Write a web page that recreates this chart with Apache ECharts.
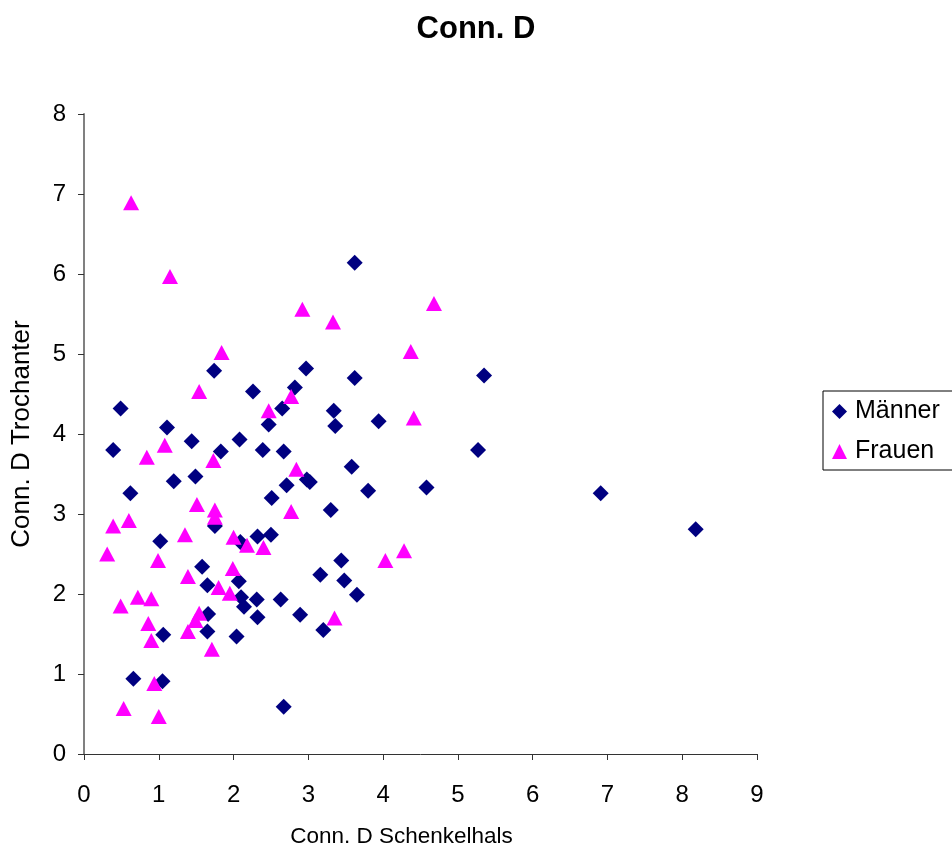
<!DOCTYPE html>
<html>
<head>
<meta charset="utf-8">
<script src="https://cdn.jsdelivr.net/npm/echarts@6/dist/echarts.min.js"></script>
<style>
  html, body { margin: 0; padding: 0; background: #fff; }
  #chart { width: 952px; height: 853px; }
</style>
</head>
<body>
<div id="chart"></div>
<script>
// Männer: [Schenkelhals, Trochanter]
var maenner = [
  [0.39, 3.80], [0.49, 4.32], [0.62, 3.26], [0.66, 0.94], [1.02, 2.66],
  [1.06, 1.49], [1.05, 0.91], [1.11, 4.08], [1.20, 3.41], [1.44, 3.91],
  [1.49, 3.47], [1.58, 2.34], [1.65, 2.11], [1.66, 1.75], [1.65, 1.53],
  [1.74, 4.79], [1.75, 2.85], [1.83, 3.78], [2.04, 1.47], [2.08, 3.93],
  [2.07, 2.16], [2.09, 2.65], [2.10, 1.96], [2.14, 1.84], [2.26, 4.53],
  [2.31, 1.93], [2.32, 1.71], [2.32, 2.72], [2.39, 3.80], [2.47, 4.12],
  [2.50, 2.74], [2.51, 3.20], [2.65, 4.32], [2.67, 3.78], [2.63, 1.93],
  [2.67, 0.59], [2.71, 3.36], [2.82, 4.58], [2.89, 1.74], [2.97, 4.82],
  [2.98, 3.43], [3.02, 3.40], [3.16, 2.24], [3.20, 1.55], [3.30, 3.05],
  [3.34, 4.29], [3.36, 4.10], [3.44, 2.42], [3.48, 2.17], [3.58, 3.59],
  [3.62, 6.14], [3.62, 4.70], [3.65, 1.99], [3.80, 3.29], [3.94, 4.16],
  [4.58, 3.33], [5.27, 3.80], [5.35, 4.73], [6.91, 3.26], [8.18, 2.81]
];

// Frauen
var frauen = [
  [0.63, 6.89], [1.15, 5.97], [2.92, 5.56], [3.33, 5.40], [4.68, 5.63],
  [1.84, 5.02], [4.37, 5.03], [1.54, 4.53], [2.77, 4.47], [2.47, 4.29],
  [4.41, 4.20], [1.08, 3.86], [0.84, 3.71], [1.73, 3.67], [2.84, 3.56],
  [1.51, 3.12], [1.75, 3.05], [1.75, 2.96], [2.77, 3.03], [0.39, 2.85],
  [0.60, 2.92], [1.35, 2.74], [2.00, 2.71], [2.18, 2.61], [2.40, 2.58],
  [0.31, 2.50], [0.99, 2.42], [1.99, 2.32], [1.39, 2.22], [1.80, 2.08],
  [1.95, 2.01], [0.49, 1.85], [0.72, 1.96], [0.90, 1.94], [0.86, 1.63],
  [0.90, 1.42], [1.54, 1.76], [1.49, 1.67], [1.39, 1.53], [1.71, 1.31],
  [0.94, 0.88], [0.53, 0.57], [1.00, 0.47], [4.03, 2.42], [4.28, 2.54],
  [3.35, 1.70]
];

var font = 'Liberation Sans, Arial, sans-serif';

var chart = echarts.init(document.getElementById('chart'));
chart.setOption({
  animation: false,
  backgroundColor: '#fff',
  title: {
    text: 'Conn. D',
    left: 'center',
    top: 9,
    textStyle: { fontFamily: font, fontSize: 31, fontWeight: 'bold', color: '#000' }
  },
  legend: {
    orient: 'vertical',
    left: 823,
    top: 391,
    padding: [8, 40, 6, 9],
    itemGap: 15,
    itemWidth: 15,
    itemHeight: 15,
    borderColor: '#000',
    borderWidth: 1,
    textStyle: { fontFamily: font, fontSize: 25, color: '#000', padding: [0, 0, 0, 3] },
    data: [
      { name: 'Männer', icon: 'diamond' },
      { name: 'Frauen', icon: 'triangle' }
    ]
  },
  grid: { left: 84, top: 114, width: 673, height: 642, containLabel: false },
  xAxis: {
    type: 'value',
    min: 0, max: 9, interval: 1,
    name: 'Conn. D Schenkelhals',
    nameLocation: 'middle',
    nameGap: 71,
    nameTextStyle: { fontFamily: font, fontSize: 22.5, color: '#000', padding: [0, 38, 0, 0] },
    axisLine: { lineStyle: { color: '#333', width: 1 } },
    axisTick: { length: 6, lineStyle: { color: '#333' } },
    axisLabel: { margin: 29, fontFamily: font, fontSize: 24, color: '#000' },
    splitLine: { show: false }
  },
  yAxis: {
    type: 'value',
    min: 0, max: 8, interval: 1,
    name: 'Conn. D Trochanter',
    nameLocation: 'middle',
    nameGap: 49,
    nameTextStyle: { fontFamily: font, fontSize: 26, color: '#000' },
    axisLine: { show: true, lineStyle: { color: '#808080', width: 2 } },
    axisTick: { show: true, length: 6, lineStyle: { color: '#333' } },
    axisLabel: { margin: 18, fontFamily: font, fontSize: 24, color: '#000' },
    splitLine: { show: false }
  },
  series: [
    {
      name: 'Männer',
      type: 'scatter',
      symbol: 'diamond',
      symbolSize: [16, 16],
      itemStyle: { color: '#000080', opacity: 1 },
      data: maenner
    },
    {
      name: 'Frauen',
      type: 'scatter',
      symbol: 'triangle',
      symbolSize: [16, 15],
      itemStyle: { color: '#ff00ff', opacity: 1 },
      data: frauen
    }
  ]
});
</script>
</body>
</html>
